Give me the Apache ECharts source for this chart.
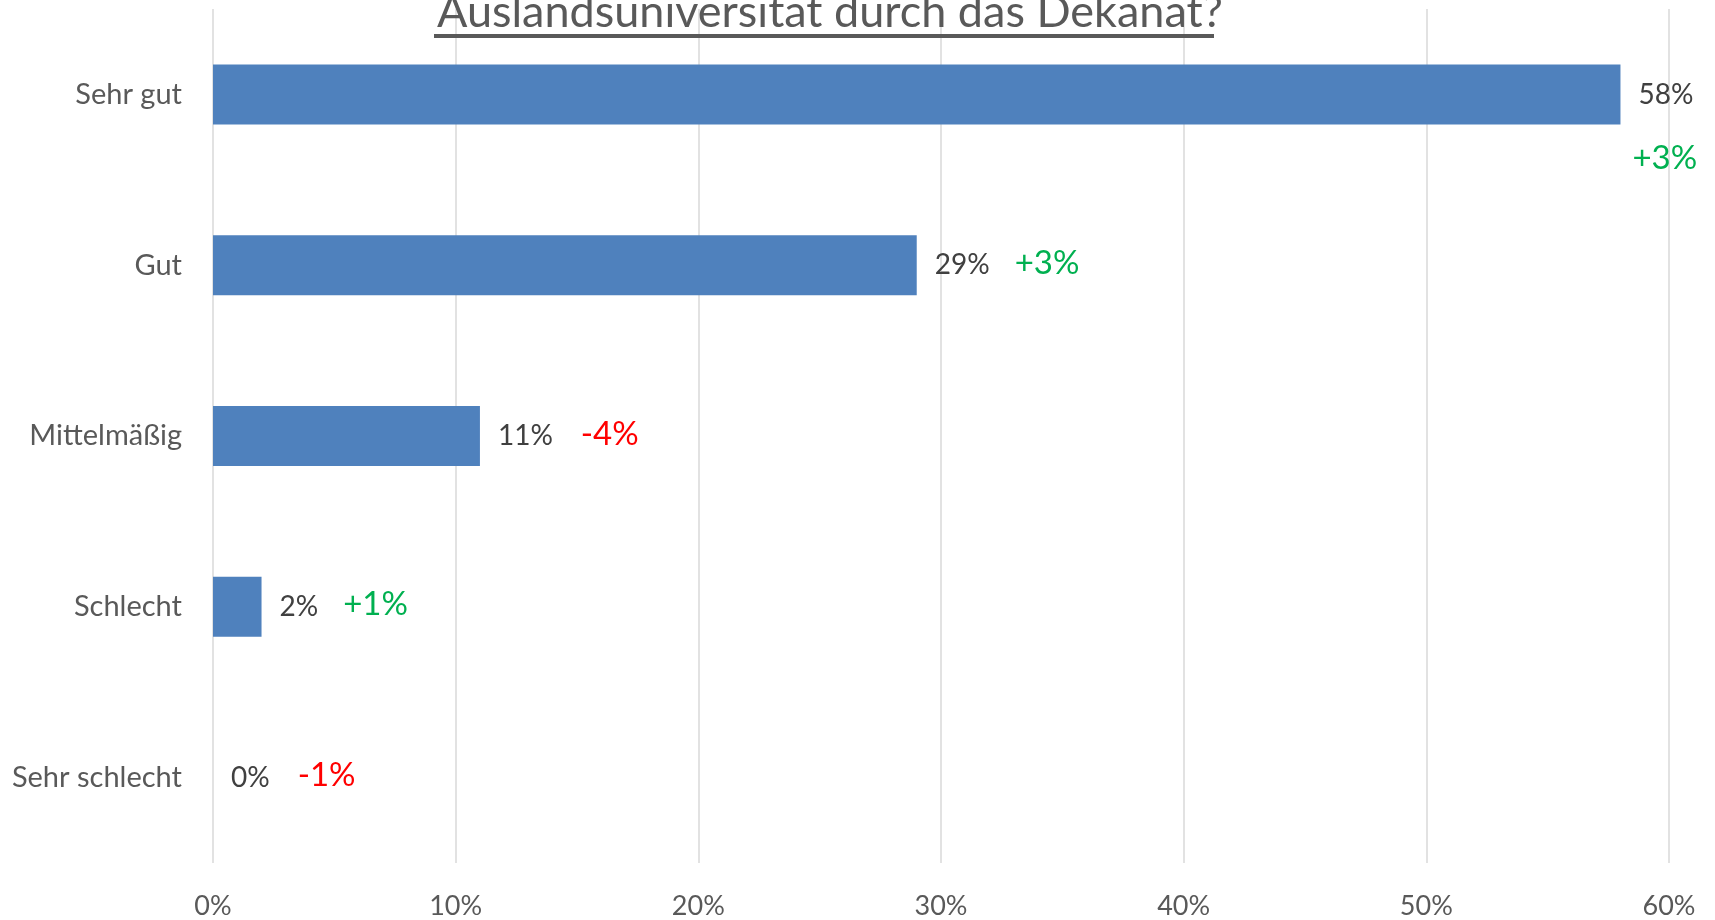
<!DOCTYPE html>
<html>
<head>
<meta charset="utf-8">
<script src="https://cdn.jsdelivr.net/npm/echarts@6/dist/echarts.min.js"></script>
<style>
  html, body { margin: 0; padding: 0; background: #fff; }
  #main { width: 1715px; height: 920px; }
</style>
</head>
<body>
<div id="main"></div>
<script>
var categories = ['Sehr gut', 'Gut', 'Mittelmäßig', 'Schlecht', 'Sehr schlecht'];
var values = [58, 29, 11, 2, 0];
var changes = ['+3%', '+3%', '-4%', '+1%', '-1%'];
var titleText = 'Auslandsuniversität durch das Dekanat?';

var FONT = 'Lato';

var chart = echarts.init(document.getElementById('main'));

// Aenderung gruen wenn positiv, rot wenn negativ
function changeStyle(c) {
    return c.charAt(0) === '-' ? 'r' : 'g';
}

var barData = values.map(function (v, i) {
    var item = { value: v };
    if (i === 0) {
        // erster Balken: Aenderung unter dem Wert
        item.label = {
            formatter: '{v0|' + v + '%}\n{' + changeStyle(changes[i]) + '0|' + changes[i] + '}',
            distance: 12,
            offset: [0, 32]
        };
    }
    return item;
});

var option = {
    backgroundColor: '#fff',
    title: {
        text: titleText,
        left: 432,
        top: -15,
        textStyle: {
            fontFamily: FONT,
            fontWeight: 'normal',
            fontSize: 45,
            color: '#595959'
        }
    },
    graphic: [
        {
            type: 'rect',
            shape: { x: 434, y: 34, width: 780, height: 4 },
            style: { fill: '#595959' },
            z: 10
        }
    ],
    grid: {
        left: 213,
        right: 46,
        top: 9,
        bottom: 56,
        containLabel: false
    },
    xAxis: {
        type: 'value',
        min: 0,
        max: 60,
        interval: 10,
        axisLine: { show: false },
        axisTick: { show: false },
        splitLine: { lineStyle: { color: '#d9d9d9', width: 1.5 } },
        axisLabel: {
            formatter: '{value}%',
            fontFamily: FONT,
            fontSize: 27,
            color: '#595959',
            margin: 30
        }
    },
    yAxis: {
        type: 'category',
        inverse: true,
        data: categories,
        axisLine: { show: false },
        axisTick: { show: false },
        axisLabel: {
            fontFamily: FONT,
            fontSize: 29,
            color: '#595959',
            margin: 31
        }
    },
    series: [
        {
            type: 'bar',
            data: barData,
            barWidth: 60,
            itemStyle: { color: '#4F81BD' },
            label: {
                show: true,
                position: 'right',
                distance: 18,
                formatter: function (p) {
                    var c = changes[p.dataIndex];
                    return '{v|' + p.value + '%}{' + changeStyle(c) + '|' + c + '}';
                },
                rich: {
                    v: { fontFamily: FONT, fontSize: 28, color: '#404040' },
                    v0: { fontFamily: FONT, fontSize: 28, color: '#404040', lineHeight: 63, padding: [0, 0, 0, 6] },
                    g: { fontFamily: FONT, fontSize: 33, color: '#00B050', padding: [0, 0, 4, 25] },
                    r: { fontFamily: FONT, fontSize: 33, color: '#FF0000', padding: [0, 0, 4, 28] },
                    g0: { fontFamily: FONT, fontSize: 33, color: '#00B050', lineHeight: 63 },
                    r0: { fontFamily: FONT, fontSize: 33, color: '#FF0000', lineHeight: 63 }
                }
            }
        }
    ]
};

chart.setOption(option);
</script>
</body>
</html>
